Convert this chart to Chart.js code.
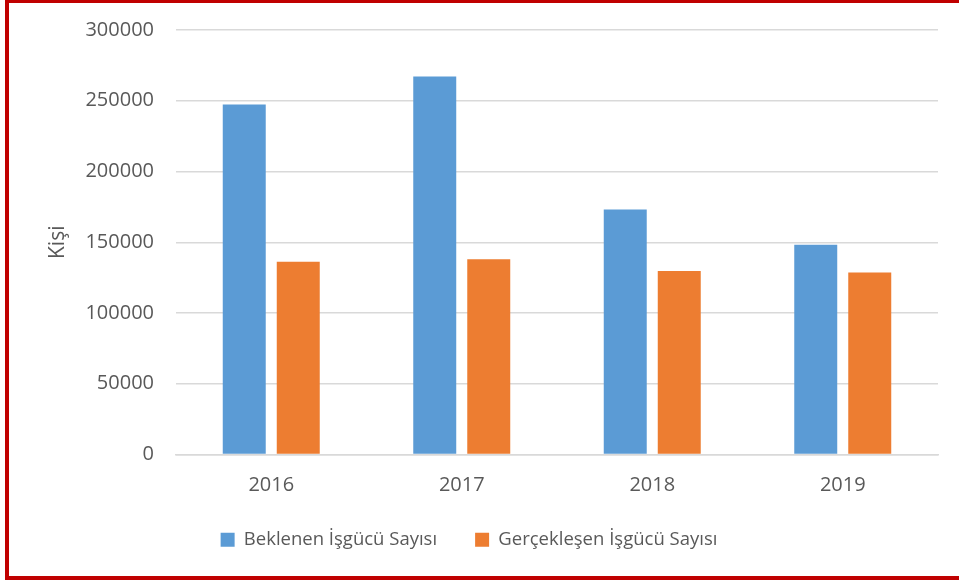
<!DOCTYPE html>
<html>
<head>
<meta charset="utf-8">
<script src="https://cdn.jsdelivr.net/npm/chart.js@4"></script>
<style>
  html, body { margin: 0; padding: 0; background: #fff; overflow: hidden; }
  #frame {
    position: absolute; left: 5px; top: -1px;
    width: 962px; height: 573px;
    border: 4px solid #c00000;
  }
  #wrap { position: absolute; left: 0; top: 0; width: 959px; height: 581px; }
</style>
</head>
<body>
<div id="wrap"><canvas id="chart" width="959" height="581"></canvas></div>
<div id="frame"></div>
<script>
// Workforce: expected vs realised, per year
const years = ['2016', '2017', '2018', '2019'];
const expected = [247400, 267200, 173200, 148300];
const realised = [136300, 137900, 129700, 128700];
const yTicks = [0, 50000, 100000, 150000, 200000, 250000, 300000];

const FONT = "'Open Sans', 'Liberation Sans', sans-serif";
const TEXT = '#595959';
const GRID = '#d9d9d9';

Chart.defaults.font.family = FONT;
Chart.defaults.color = TEXT;

new Chart(document.getElementById('chart').getContext('2d'), {
    type: 'bar',
    data: {
        labels: years,
        datasets: [
            {
                label: 'Beklenen İşgücü Sayısı',
                data: expected,
                backgroundColor: '#5b9bd5',
                borderWidth: 0
            },
            {
                label: 'Gerçekleşen İşgücü Sayısı',
                data: realised,
                backgroundColor: '#ed7d31',
                borderWidth: 0
            }
        ]
    },
    options: {
        responsive: false,
        animation: false,
        categoryPercentage: 0.567,
        barPercentage: 0.796,
        layout: {padding: {left: 0, right: 21, top: 30, bottom: 22}},
        plugins: {
            legend: {
                position: 'bottom',
                labels: {
                    boxWidth: 14,
                    boxHeight: 14,
                    padding: 38,
                    font: {size: 18.5},
                    color: TEXT
                }
            },
            tooltip: {enabled: false}
        },
        scales: {
            x: {
                grid: {display: false, drawTicks: false},
                border: {display: true, color: GRID, width: 1.5},
                ticks: {font: {size: 20}, padding: 19, color: TEXT},
                afterFit: scale => { scale.height -= 24; }
            },
            y: {
                min: 0,
                max: 300000,
                afterBuildTicks: scale => {
                    scale.ticks = yTicks.map(v => ({value: v}));
                },
                afterFit: scale => {
                    scale.width = 176;
                    scale.paddingTop = 0;
                    scale.paddingBottom = 0;
                },
                grid: {color: GRID, lineWidth: 1.5, drawTicks: false},
                border: {display: false},
                ticks: {
                    font: {size: 20},
                    padding: 22,
                    color: TEXT,
                    callback: v => String(v)
                },
                title: {
                    display: true,
                    text: 'Kişi',
                    font: {size: 21},
                    padding: {top: 45, bottom: 4},
                    color: TEXT
                }
            }
        }
    }
});
</script>
</body>
</html>
